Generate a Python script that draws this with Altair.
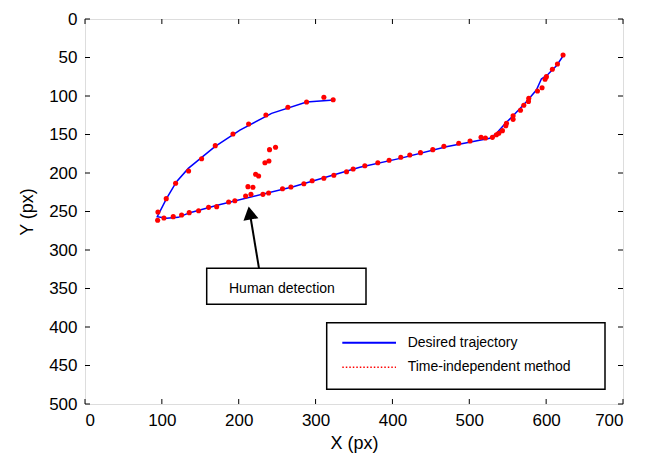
import altair as alt
import pandas as pd

# Desired trajectory (path order)
desired_x = [323.8, 288.3, 242.8, 201.6, 169.0, 134.4, 119.1, 106.2, 94.0, 106.2, 121.3, 136.5,
             173.3, 270.9, 357.6, 410.0, 470.0, 526.7, 535.4, 546.2, 557.0, 574.3, 587.3, 593.8,
             602.5, 613.4, 622.9]
desired_y = [105.2, 107.8, 122.5, 144.2, 165.8, 194.0, 211.3, 232.9, 256.8, 258.8, 257.6, 251.5,
             241.6, 217.8, 192.6, 181.0, 166.0, 154.9, 148.4, 136.4, 125.6, 107.4, 92.2, 77.9,
             71.8, 60.6, 46.8]

# Time-independent method samples
method_x = [310.8, 322.9, 288.3, 264.0, 235.4, 212.9, 192.5, 169.5, 151.7, 134.8, 117.9, 105.7,
            94.9, 94.5, 102.7, 114.8, 125.7, 135.6, 147.8, 160.8, 171.3, 186.9, 195.0, 209.0,
            215.9, 231.5, 238.9, 257.0, 267.9, 284.8, 295.6, 310.8, 323.8, 340.3, 348.9,
            212.0, 218.5, 222.0, 225.9, 234.1, 239.3, 240.1, 247.9,
            364.1, 381.0, 395.7, 410.9, 422.6, 436.5, 452.5, 467.0, 486.3, 501.0, 515.3, 521.0,
            530.1, 535.3, 538.4, 543.1, 547.5, 548.4, 557.0, 557.0, 566.6, 570.9, 577.0, 577.4,
            588.7, 594.7, 598.6, 600.4, 608.1, 614.7, 622.0]
method_y = [101.7, 104.8, 107.8, 114.7, 124.7, 136.4, 149.4, 164.5, 181.4, 197.4, 213.4, 233.3,
            250.6, 261.4, 258.4, 256.7, 254.5, 251.5, 249.0, 244.6, 243.7, 237.7, 236.0, 229.9,
            227.7, 227.7, 226.0, 220.4, 218.2, 213.9, 210.0, 206.9, 203.0, 198.3, 194.8,
            217.7, 218.6, 201.7, 203.9, 186.6, 184.4, 169.7, 166.6,
            190.5, 186.6, 183.5, 179.6, 176.6, 173.6, 169.7, 165.4, 161.4, 158.4, 153.7, 154.5,
            153.7, 150.3, 148.4, 145.0, 138.5, 135.5, 130.3, 125.6, 118.6, 112.1, 107.0, 103.0,
            93.5, 89.2, 78.3, 74.9, 65.3, 58.4, 46.8]

x_ticks = [0, 100, 200, 300, 400, 500, 600, 700]
y_ticks = [0, 50, 100, 150, 200, 250, 300, 350, 400, 450, 500]

legend_labels = ["Desired trajectory", "Time-independent method"]
annotation_text = "Human detection"

W, H = 538, 385
FONT = "Liberation Sans"

xs = alt.Scale(domain=[0, 700], nice=False, zero=False)
ys = alt.Scale(domain=[0, 500], nice=False, zero=False, reverse=True)

x_axis = alt.Axis(values=x_ticks, ticks=False, tickSize=0, domain=False, grid=False,
                  labelFontSize=17, labelFont=FONT, labelColor="black", labelPadding=8,
                  titleFontSize=18, titleFont=FONT, titleFontWeight="normal",
                  titleColor="black", titleY=39, titleBaseline="middle")
y_axis = alt.Axis(values=y_ticks, ticks=False, tickSize=0, domain=False, grid=False,
                  labelFontSize=17, labelFont=FONT, labelColor="black", labelPadding=8,
                  titleFontSize=18, titleFont=FONT, titleFontWeight="normal",
                  titleColor="black", titleX=-58, titleY=H / 2, titleAngle=270,
                  titleBaseline="middle", titleAlign="center")


def X(field):
    return alt.X(field, scale=xs, title="X (px)", axis=x_axis)


def Y(field):
    return alt.Y(field, scale=ys, title="Y (px)", axis=y_axis)


df_line = pd.DataFrame({"x": desired_x, "y": desired_y, "o": list(range(len(desired_x)))})
df_pts = pd.DataFrame({"x": method_x, "y": method_y})

line = alt.Chart(df_line).mark_line(color="#0000ff", strokeWidth=1.5).encode(
    x=X("x:Q"), y=Y("y:Q"), order="o:Q")

pts = alt.Chart(df_pts).mark_circle(color="#ff0000", size=26, opacity=1).encode(
    x=X("x:Q"), y=Y("y:Q"))

df_xt = pd.DataFrame({"x": x_ticks})
df_yt = pd.DataFrame({"y": y_ticks})
tb = alt.Chart(df_xt).mark_rule(color="black", strokeWidth=1).encode(
    x=X("x:Q"), y=alt.value(H), y2=alt.value(H - 5))
tt = alt.Chart(df_xt).mark_rule(color="black", strokeWidth=1).encode(
    x=X("x:Q"), y=alt.value(0), y2=alt.value(5))
tl = alt.Chart(df_yt).mark_rule(color="black", strokeWidth=1).encode(
    y=Y("y:Q"), x=alt.value(0), x2=alt.value(5))
tr = alt.Chart(df_yt).mark_rule(color="black", strokeWidth=1).encode(
    y=Y("y:Q"), x=alt.value(W), x2=alt.value(W - 5))

one = pd.DataFrame({"a": [0]})

# annotation: box, text, arrow
ann_box = alt.Chart(one).mark_rect(fill="white", stroke="black", strokeWidth=1.5).encode(
    x=alt.value(121.7), x2=alt.value(281), y=alt.value(249.3), y2=alt.value(285.3))
ann_text = alt.Chart(one).mark_text(text=annotation_text, font=FONT, fontSize=14,
                                    align="left", baseline="middle", color="black").encode(
    x=alt.value(144), y=alt.value(269.5))
arrow_line = alt.Chart(one).mark_rule(color="black", strokeWidth=2).encode(
    x=alt.value(174), y=alt.value(249.3), x2=alt.value(165.5), y2=alt.value(198))
arrow_head = alt.Chart(one).mark_point(shape="triangle-up", filled=True, color="black",
                                       size=230, angle=350, opacity=1).encode(
    x=alt.value(164.8), y=alt.value(194))

# legend
leg_box = alt.Chart(one).mark_rect(fill="white", stroke="black", strokeWidth=1.5).encode(
    x=alt.value(241.7), x2=alt.value(520), y=alt.value(303.7), y2=alt.value(370.3))
leg_l1 = alt.Chart(one).mark_rule(color="#0000ff", strokeWidth=2).encode(
    x=alt.value(257.3), x2=alt.value(311), y=alt.value(323.7))
leg_l2 = alt.Chart(one).mark_rule(color="#ff0000", strokeWidth=1.5, strokeDash=[1.5, 2]).encode(
    x=alt.value(257.3), x2=alt.value(311), y=alt.value(348.3))
leg_t1 = alt.Chart(one).mark_text(text=legend_labels[0], font=FONT, fontSize=14, align="left",
                                  baseline="middle", color="black").encode(
    x=alt.value(322.7), y=alt.value(323.7))
leg_t2 = alt.Chart(one).mark_text(text=legend_labels[1], font=FONT, fontSize=14, align="left",
                                  baseline="middle", color="black").encode(
    x=alt.value(322.7), y=alt.value(348.3))

chart = alt.layer(
    line, pts, tb, tt, tl, tr,
    arrow_line, arrow_head, ann_box, ann_text,
    leg_box, leg_l1, leg_l2, leg_t1, leg_t2,
).properties(
    width=W, height=H,
    autosize=alt.AutoSizeParams(type="none"),
    padding={"left": 77, "top": 11, "right": 23, "bottom": 49},
).configure_view(stroke="black", strokeWidth=1.5).configure(background="white")

chart.save("out.html", embed_options={"renderer": "svg", "actions": False})
